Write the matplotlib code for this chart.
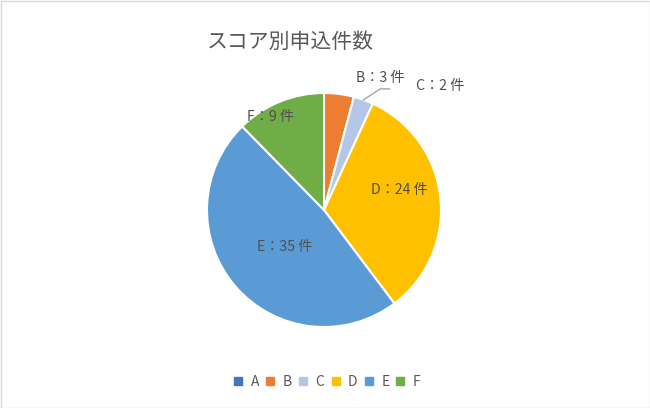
import numpy as np
import matplotlib
matplotlib.use("Agg")
import matplotlib.pyplot as plt
from matplotlib.lines import Line2D
from matplotlib.patches import Rectangle

plt.rcParams['font.family'] = ['Noto Sans CJK JP', 'DejaVu Sans']

title = "スコア別申込件数"
categories = ["A", "B", "C", "D", "E", "F"]
values = [0, 3, 2, 24, 35, 9]
colors = ["#4472C4", "#ED7D31", "#B4C7E7", "#FFC000", "#5B9BD5", "#70AD47"]
# label placement: (angle deg, radius fraction) per category, None = no label
label_pos = [None, (67, 1.23), (47, 1.45), (14.7, 0.67), (223.5, 0.46), (120, 0.92)]

W, H = 650, 408
fig = plt.figure(figsize=(W / 100, H / 100), dpi=100)
fig.patches.append(Rectangle((0.5 / W, 0.5 / H), 1 - 1 / W, 1 - 1 / H, transform=fig.transFigure,
                             fill=False, edgecolor="#D9D9D9", linewidth=1))

cx, cy, r = 324, 210, 117
ax = fig.add_axes([(cx - r) / W, (H - cy - r) / H, 2 * r / W, 2 * r / H])
wedges, _ = ax.pie(values, colors=colors, startangle=90, counterclock=False, radius=1,
                   wedgeprops=dict(edgecolor="white", linewidth=1.5))
ax.set_xlim(-1, 1)
ax.set_ylim(-1, 1)
ax.set_aspect('auto')
ax.axis('off')

txtcol = "#505050"
for cat, v, pos in zip(categories, values, label_pos):
    if pos is None:
        continue
    a, rr = pos
    x, y = rr * np.cos(np.radians(a)), rr * np.sin(np.radians(a))
    ax.text(x, y, f"{cat}：{v} 件", ha="center", va="center", fontsize=10.2,
            color=txtcol, clip_on=False)

# leader line for C
total = sum(values)
cstart = 90 - 360 * sum(values[:2]) / total
cend = cstart - 360 * values[2] / total
cm = np.radians((cstart + cend) / 2)
p0 = (np.cos(cm) * 1.0, np.sin(cm) * 1.0)
ax.plot([p0[0], 0.48, 0.56], [p0[1], 1.035, 1.035], color="#A6A6A6", lw=1, clip_on=False)

fig.text(290 / W, 1 - 42 / H, title, ha="center", va="center", fontsize=15, color="#595959")

handles = [Line2D([], [], marker='s', linestyle='none', markersize=5.5,
                  markerfacecolor=c, markeredgecolor=c) for c in colors]
fig.legend(handles, categories, loc="center", bbox_to_anchor=(326 / W, 1 - 382 / H), ncol=6,
           frameon=False, fontsize=10, labelcolor="#595959", handletextpad=0.4,
           columnspacing=0.3, handlelength=1.0)

fig.savefig("out.png", dpi=100)
